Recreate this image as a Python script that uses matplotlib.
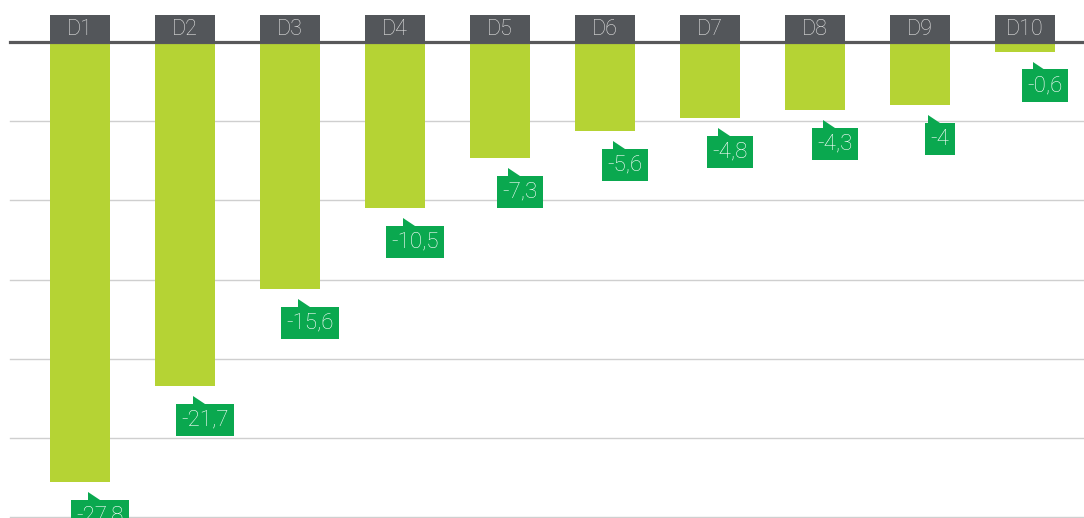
import matplotlib.pyplot as plt
from matplotlib.patches import Rectangle, Polygon

# data
categories = ['D1', 'D2', 'D3', 'D4', 'D5', 'D6', 'D7', 'D8', 'D9', 'D10']
values = [-27.8, -21.7, -15.6, -10.5, -7.3, -5.6, -4.8, -4.3, -4.0, -0.6]
grid_vals = [-5, -10, -15, -20, -25, -30]

bar_color = '#b5d334'
label_color = '#0aa84f'
cat_color = '#53565a'
font = ['Roboto', 'DejaVu Sans']

W, H = 1084, 518
fig = plt.figure(figsize=(W / 100, H / 100), dpi=100)
ax = fig.add_axes([0, 0, 1, 1])

# pixel scale: 105 px per category, 15.833 px per unit
px_x = 105.0
px_y = 475 / 30.0
ax.set_xlim(-80 / px_x, (W - 80) / px_x)
ax.set_ylim(-(H - 42) / px_y, 42 / px_y)
ax.axis('off')
sx = 1 / px_x
sy = 1 / px_y

x = list(range(len(categories)))

for g in grid_vals:
    ax.axhline(g, xmin=10 / W, xmax=1, color='#cfcfcf', lw=1, zorder=1)

ax.bar(x, values, width=60 / px_x, color=bar_color, zorder=2)
ax.axhline(0, xmin=10 / W, xmax=1, color='#58585a', lw=2.3, zorder=3)

# category boxes on top of the axis line
for i, c in zip(x, categories):
    ax.add_patch(Rectangle((i - 30 * sx, -1 * sy), 60 * sx, 28 * sy,
                           fc=cat_color, ec='none', zorder=4))
    ax.text(i, 13 * sy, c, ha='center', va='center', color='#e2e2e2',
            fontsize=15.5, family=font, fontweight='light', zorder=5)

# value labels with small flag
for i, v in zip(x, values):
    txt = f'{v:g}'.replace('.', ',')
    box_top = v - 20 * sy
    fx = i + 8 * sx
    ax.add_patch(Polygon([(fx, v - 10 * sy), (fx, box_top - 2 * sy),
                          (fx + 18 * sx, box_top - 2 * sy)],
                         closed=True, fc=label_color, ec='none', zorder=5,
                         clip_on=False))
    ax.text(i + 20 * sx, box_top - 14 * sy, txt, ha='center', va='center',
            color='white', fontsize=16, family=font, fontweight='light',
            zorder=6, clip_on=False,
            bbox=dict(boxstyle='square,pad=0.25', fc=label_color, ec='none'))

fig.savefig('out.png', dpi=100)
